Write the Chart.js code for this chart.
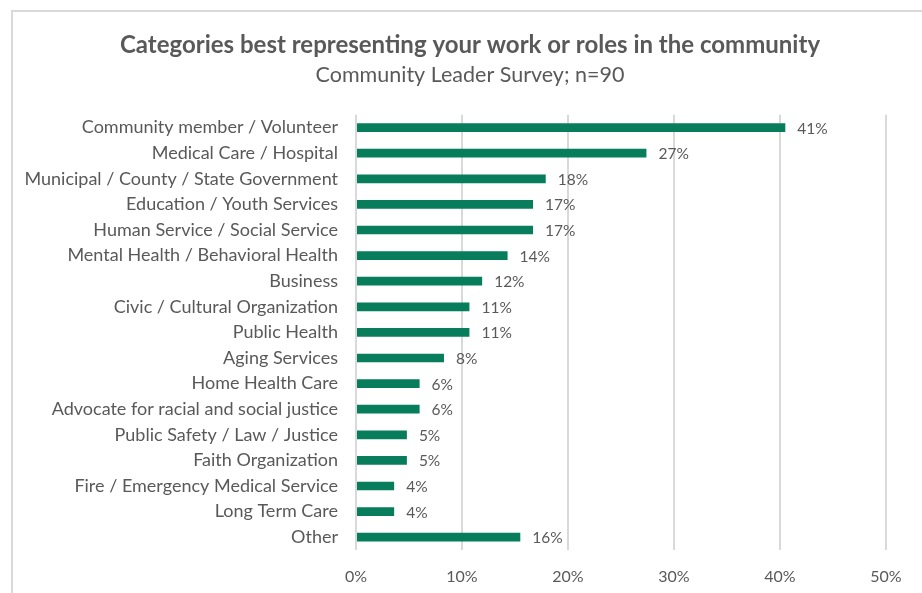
<!DOCTYPE html>
<html lang="en">
<head>
  <meta charset="UTF-8">
  <title>Community roles</title>
  <script src="https://cdn.jsdelivr.net/npm/chart.js"></script>
  <style>
    html, body { margin: 0; padding: 0; background: #fff; overflow: hidden; }
    .frame { position: absolute; left: 11px; top: 10px; width: 2000px; height: 2000px; border: 2px solid #d9d9d9; }
    .wrap { position: absolute; left: 0; top: 0; width: 922px; height: 593px; }
  </style>
</head>
<body>

<div class="frame"></div>
<div class="wrap"><canvas id="roles" width="922" height="593"></canvas></div>

<script>
// categories, top to bottom
const categories = [
  "Community member / Volunteer",
  "Medical Care / Hospital",
  "Municipal / County / State Government",
  "Education / Youth Services",
  "Human Service / Social Service",
  "Mental Health / Behavioral Health",
  "Business",
  "Civic / Cultural Organization",
  "Public Health",
  "Aging Services",
  "Home Health Care",
  "Advocate for racial and social justice",
  "Public Safety / Law / Justice",
  "Faith Organization",
  "Fire / Emergency Medical Service",
  "Long Term Care",
  "Other"
];

// share of respondents, percent
const shares = [40.5, 27.4, 17.9, 16.7, 16.7, 14.3, 11.9, 10.7, 10.7, 8.3, 6.0, 6.0, 4.8, 4.8, 3.6, 3.6, 15.5];

const xTicks = [0, 10, 20, 30, 40, 50];

const FONT = "Lato, 'Open Sans', sans-serif";
const GREY = "#595959";

// percent labels to the right of each bar
const barLabels = {
  id: "barLabels",
  afterDatasetsDraw(chart) {
    const ctx = chart.ctx;
    const meta = chart.getDatasetMeta(0);
    ctx.save();
    ctx.font = "15.5px " + FONT;
    ctx.fillStyle = GREY;
    ctx.textAlign = "left";
    ctx.textBaseline = "middle";
    meta.data.forEach((bar, i) => {
      ctx.fillText(Math.round(shares[i]) + "%", bar.x + 12, bar.y + 1);
    });
    ctx.restore();
  }
};

Chart.defaults.font.family = FONT;
Chart.defaults.color = GREY;

new Chart(document.getElementById("roles"), {
  type: "bar",
  data: {
    labels: categories,
    datasets: [{
      data: shares,
      backgroundColor: "#077d5c",
      barPercentage: 0.34,
      categoryPercentage: 1
    }]
  },
  options: {
    indexAxis: "y",
    responsive: false,
    animation: false,
    layout: { padding: { left: 18, right: 0, top: 0, bottom: 0 } },
    plugins: {
      legend: { display: false },
      tooltip: { enabled: false },
      title: {
        display: true,
        text: "Categories best representing your work or roles in the community",
        color: GREY,
        font: { size: 24, weight: "bold" },
        padding: { top: 30.6, bottom: 2 }
      },
      subtitle: {
        display: true,
        text: "Community Leader Survey; n=90",
        color: GREY,
        font: { size: 21.5 },
        padding: { top: 0.6, bottom: 27 }
      }
    },
    scales: {
      x: {
        min: 0,
        max: 50,
        afterBuildTicks(scale) { scale.ticks = xTicks.map(v => ({ value: v })); },
        ticks: { callback: v => v + "%", font: { size: 16 }, padding: 17, color: GREY },
        grid: { color: "#d9d9d9", lineWidth: 2, drawTicks: false },
        border: { display: false },
        afterFit(scale) { scale.height = 43; }
      },
      y: {
        ticks: { font: { size: 18 }, padding: 18, autoSkip: false, color: GREY },
        grid: { display: false, drawTicks: false },
        border: { display: false },
        afterFit(scale) { scale.width = 338; }
      },
      // empty strip on the right so the 50% line sits inside the frame
      yRight: {
        type: "category",
        position: "right",
        ticks: { display: false },
        grid: { display: false, drawTicks: false },
        border: { display: false },
        afterFit(scale) { scale.width = 36; }
      }
    }
  },
  plugins: [barLabels]
});
</script>

</body>
</html>
